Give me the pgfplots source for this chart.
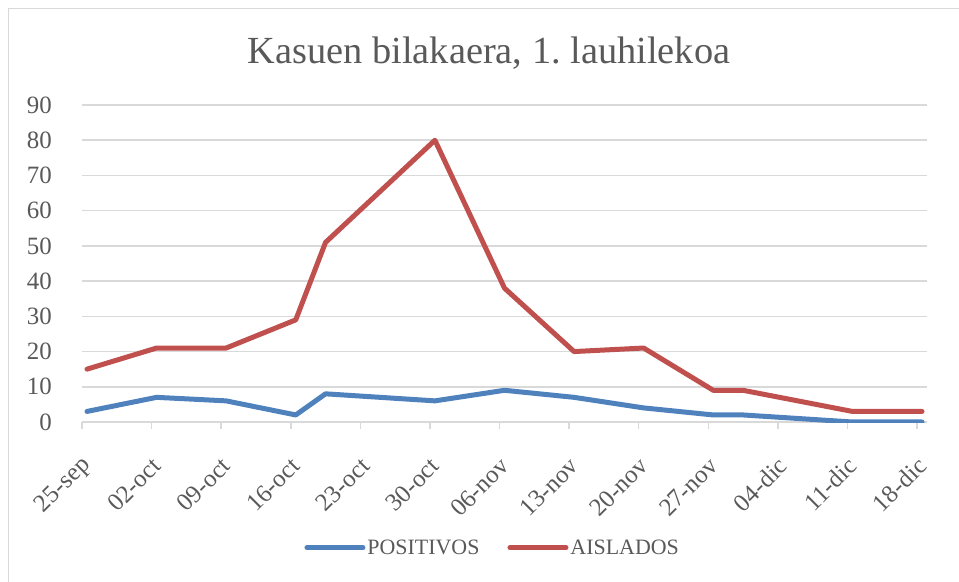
\documentclass[border=0pt]{standalone}
\usepackage{fontspec}
\setmainfont{Liberation Serif}
\usepackage{pgfplots}
\pgfplotsset{compat=1.18}
\definecolor{txtgray}{HTML}{595959}
\definecolor{gridgray}{HTML}{D9D9D9}
\definecolor{bluel}{HTML}{4F81BD}
\definecolor{redl}{HTML}{C0504D}
\frenchspacing
\begin{document}
\begin{tikzpicture}
\useasboundingbox (0,0) rectangle (959bp,582bp);
\draw[gridgray, line width=1bp] (8.5bp,0) -- (8.5bp,573.5bp) -- (959bp,573.5bp);
\node[anchor=base, text=txtgray, font=\fontsize{38.5}{44}\selectfont, inner sep=0pt] at (489bp,518bp) {Kasuen bilakaera, 1.\ lauhilekoa};
\begin{axis}[
  at={(82bp,160bp)}, anchor=south west,
  scale only axis, width=845bp, height=317bp,
  xmin=0, xmax=85, ymin=0, ymax=90,
  axis x line*=bottom, axis y line*=left,
  x axis line style={draw=gridgray, line width=1.5bp},
  y axis line style={draw=none},
  ytick={0,10,...,90},
  ymajorgrids, grid style={draw=gridgray, line width=1.5bp},
  ytick style={draw=none},
  xtick={0,7,...,84},
  xticklabels={25-sep,02-oct,09-oct,16-oct,23-oct,30-oct,06-nov,13-nov,20-nov,27-nov,04-dic,11-dic,18-dic},
  tick align=outside, major tick length=7bp,
  xtick style={draw=gridgray, line width=1.5bp},
  ticklabel style={font=\fontsize{25}{30}\selectfont, text=txtgray},
  /pgf/number format/assume math mode=true,
  yticklabel style={inner sep=0pt, xshift=-23bp},
  xticklabel style={inner sep=0pt, shift={(5bp,-33bp)}, rotate=45, anchor=east},
  legend columns=2,
  legend style={at={(0.486,-0.397)}, anchor=center, draw=none, fill=none,
    font=\fontsize{22}{26}\selectfont, text=txtgray,
    /tikz/every even column/.append style={column sep=26bp},
    inner sep=0pt},
  legend cell align=left,
  legend image code/.code={\draw[#1, line cap=round] (0bp,0bp) -- (56bp,0bp);},
  every axis plot/.append style={line width=5bp, line join=round, line cap=round},
]
\addplot[bluel] coordinates {(0.5,3)(7.5,7)(14.5,6)(21.5,2)(24.5,8)(35.5,6)(42.5,9)(49.5,7)(56.5,4)(63.5,2)(66.5,2)(77.5,0)(84.5,0)};
\addlegendentry{POSITIVOS}
\addplot[redl] coordinates {(0.5,15)(7.5,21)(14.5,21)(21.5,29)(24.5,51)(35.5,80)(42.5,38)(49.5,20)(56.5,21)(63.5,9)(66.5,9)(77.5,3)(84.5,3)};
\addlegendentry{AISLADOS}
\end{axis}
\end{tikzpicture}
\end{document}
